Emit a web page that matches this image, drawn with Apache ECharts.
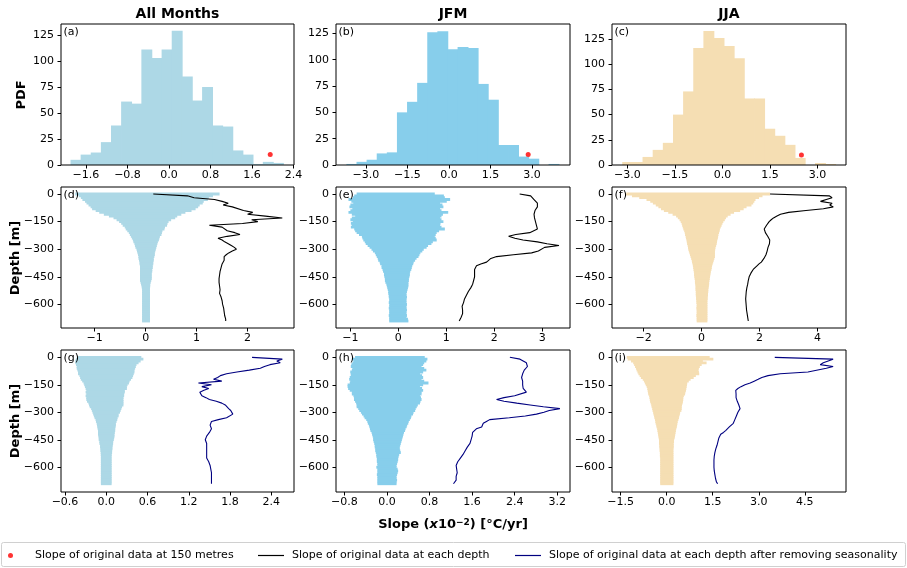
<!DOCTYPE html>
<html>
<head>
<meta charset="utf-8">
<script src="https://cdn.jsdelivr.net/npm/echarts@6/dist/echarts.min.js"></script>
<style>html,body{margin:0;padding:0;background:#fff}#c{width:907px;height:568px}</style>
</head>
<body>
<div id="c"></div>
<script>
// ---------------- DATA ----------------
const columnTitles = ['All Months', 'JFM', 'JJA'];
const panelLetters = ['(a)','(b)','(c)','(d)','(e)','(f)','(g)','(h)','(i)'];

const histEdgesAll = [-1.89,-1.695,-1.5,-1.305,-1.11,-0.915,-0.72,-0.525,-0.33,-0.135,0.06,0.255,0.45,0.645,0.84,1.035,1.23,1.425,1.62,1.815,2.01,2.205];
const histCountsAll = [5,10,12,22,38,61,59,111,103,111,129,85,62,75,38,37,14,10,1,3,2];
const histEdgesJFM = [-3.69,-3.325,-2.96,-2.595,-2.23,-1.865,-1.5,-1.135,-0.77,-0.405,-0.04,0.325,0.69,1.055,1.42,1.785,2.15,2.515,2.88,3.245,3.61,3.975];
const histCountsJFM = [1,3,5,11,12,50,60,78,126,127,110,112,111,77,62,19,19,8,6,0,1];
const histEdgesJJA = [-3.15,-2.83,-2.51,-2.19,-1.87,-1.55,-1.23,-0.91,-0.59,-0.27,0.05,0.37,0.69,1.01,1.33,1.65,1.97,2.29,2.61,2.93,3.25,3.57];
const histCountsJJA = [3,3,8,15,22,50,73,116,133,126,118,106,66,66,36,29,20,7,0,2,1];
const slopeAt150 = [1.95, 2.86, 2.49];
const pdfAt150 = [10, 10, 10];

const depths = [0,-10,-20,-30,-40,-50,-60,-70,-80,-90,-100,-110,-120,-130,-140,-150,-160,-170,-180,-190,-200,-210,-220,-230,-240,-250,-260,-270,-280,-290,-300,-310,-320,-330,-340,-350,-360,-370,-380,-390,-400,-410,-420,-430,-440,-450,-460,-470,-480,-490,-500,-510,-520,-530,-540,-550,-560,-570,-580,-590,-600,-610,-620,-630,-640,-650,-660,-670,-680,-690];

// (d) All months, original data
const allLeft = [-1.38,-1.31,-1.27,-1.24,-1.19,-1.16,-1.12,-1.08,-1.05,-0.98,-0.91,-0.82,-0.72,-0.63,-0.57,-0.52,-0.48,-0.45,-0.41,-0.39,-0.36,-0.33,-0.31,-0.29,-0.27,-0.25,-0.24,-0.22,-0.21,-0.20,-0.18,-0.17,-0.16,-0.15,-0.14,-0.14,-0.13,-0.12,-0.12,-0.11,-0.11,-0.11,-0.11,-0.11,-0.11,-0.11,-0.11,-0.11,-0.10,-0.09,-0.08,-0.075,-0.07,-0.07,-0.07,-0.07,-0.07,-0.07,-0.07,-0.07,-0.07,-0.07,-0.07,-0.07,-0.07,-0.07,-0.07,-0.07,-0.07,-0.07];
const allRight = [1.45,1.32,1.24,1.22,1.14,1.12,1.06,1.03,0.98,0.90,0.78,0.70,0.62,0.58,0.50,0.45,0.43,0.42,0.38,0.37,0.33,0.32,0.31,0.28,0.27,0.26,0.24,0.23,0.22,0.21,0.20,0.19,0.18,0.18,0.17,0.16,0.16,0.15,0.15,0.14,0.14,0.13,0.13,0.12,0.12,0.12,0.12,0.11,0.10,0.09,0.09,0.085,0.085,0.085,0.085,0.085,0.085,0.085,0.085,0.085,0.085,0.085,0.085,0.085,0.085,0.085,0.085,0.085,0.085,0.085];
const allSlope = [0.15,0.82,0.95,1.35,1.50,1.62,1.52,1.70,1.72,1.92,2.10,2.00,2.35,2.68,2.08,2.20,1.90,1.25,1.50,1.48,1.60,1.75,1.85,1.60,1.42,1.50,1.55,1.62,1.68,1.74,1.78,1.70,1.63,1.58,1.54,1.52,1.54,1.53,1.50,1.49,1.48,1.47,1.46,1.46,1.45,1.44,1.44,1.44,1.44,1.45,1.45,1.46,1.46,1.47,1.45,1.47,1.48,1.49,1.50,1.50,1.51,1.52,1.53,1.53,1.54,1.55,1.55,1.56,1.57,1.57];

// (e) JFM, original data
const jfmLeft = [-0.87,-0.92,-0.95,-1.04,-0.98,-0.94,-1.00,-1.02,-0.96,-1.00,-1.04,-0.97,-0.90,-0.97,-1.00,-0.95,-0.99,-0.97,-0.99,-0.92,-0.90,-0.87,-0.82,-0.76,-0.75,-0.73,-0.70,-0.68,-0.64,-0.60,-0.56,-0.53,-0.49,-0.47,-0.45,-0.43,-0.42,-0.39,-0.38,-0.35,-0.35,-0.33,-0.32,-0.30,-0.30,-0.29,-0.28,-0.28,-0.27,-0.25,-0.24,-0.23,-0.22,-0.21,-0.21,-0.20,-0.20,-0.19,-0.19,-0.20,-0.19,-0.19,-0.20,-0.19,-0.19,-0.19,-0.20,-0.19,-0.19,-0.19];
const jfmRight = [0.76,0.95,0.97,1.08,1.01,0.87,0.92,0.94,0.87,0.90,1.04,0.93,0.90,0.87,0.90,0.94,0.88,0.87,0.90,0.97,0.85,0.80,0.78,0.76,0.78,0.80,0.72,0.69,0.62,0.59,0.53,0.50,0.46,0.44,0.42,0.38,0.35,0.32,0.31,0.29,0.28,0.27,0.25,0.24,0.24,0.23,0.22,0.22,0.21,0.21,0.21,0.20,0.19,0.18,0.17,0.17,0.18,0.17,0.17,0.17,0.18,0.17,0.17,0.18,0.17,0.17,0.18,0.17,0.20,0.21];
const jfmSlope = [2.53,2.76,2.80,2.83,2.86,2.90,2.92,2.90,2.86,2.85,2.84,2.83,2.83,2.84,2.85,2.86,2.87,2.88,2.89,2.90,2.92,2.74,2.45,2.30,2.43,2.60,2.90,3.10,3.35,3.05,3.02,2.92,2.78,2.40,2.05,1.93,1.89,1.84,1.72,1.63,1.60,1.59,1.58,1.59,1.60,1.59,1.58,1.57,1.56,1.55,1.53,1.51,1.48,1.46,1.44,1.42,1.40,1.38,1.37,1.36,1.35,1.33,1.32,1.34,1.35,1.34,1.32,1.31,1.29,1.27];

// (f) JJA, original data
const jjaLeft = [-2.60,-2.40,-2.15,-1.90,-1.77,-1.68,-1.58,-1.49,-1.40,-1.30,-1.15,-1.00,-0.88,-0.82,-0.76,-0.72,-0.69,-0.67,-0.65,-0.63,-0.60,-0.58,-0.57,-0.55,-0.54,-0.52,-0.51,-0.50,-0.48,-0.47,-0.46,-0.44,-0.42,-0.40,-0.38,-0.36,-0.34,-0.33,-0.31,-0.30,-0.29,-0.28,-0.27,-0.26,-0.26,-0.25,-0.24,-0.23,-0.23,-0.22,-0.21,-0.21,-0.21,-0.20,-0.20,-0.20,-0.19,-0.19,-0.18,-0.18,-0.17,-0.17,-0.18,-0.17,-0.17,-0.17,-0.18,-0.17,-0.17,-0.17];
const jjaRight = [2.36,2.10,1.98,1.86,1.82,1.78,1.72,1.55,1.45,1.33,1.12,1.00,0.90,0.84,0.80,0.75,0.72,0.69,0.66,0.63,0.62,0.60,0.58,0.57,0.56,0.54,0.53,0.52,0.50,0.48,0.47,0.46,0.46,0.46,0.46,0.44,0.42,0.40,0.38,0.36,0.35,0.34,0.32,0.31,0.30,0.29,0.28,0.27,0.26,0.26,0.25,0.24,0.23,0.23,0.22,0.22,0.21,0.21,0.20,0.20,0.20,0.20,0.20,0.20,0.20,0.20,0.20,0.20,0.20,0.20];
const jjaSlope = [2.36,4.40,4.50,4.30,4.10,4.50,4.42,4.54,4.20,3.60,3.00,2.72,2.60,2.48,2.40,2.33,2.27,2.24,2.20,2.16,2.17,2.20,2.24,2.28,2.32,2.35,2.36,2.34,2.31,2.29,2.28,2.26,2.24,2.22,2.19,2.15,2.12,2.06,1.98,1.91,1.85,1.78,1.73,1.70,1.67,1.64,1.62,1.61,1.60,1.59,1.57,1.56,1.55,1.54,1.53,1.53,1.52,1.52,1.52,1.53,1.53,1.54,1.55,1.55,1.56,1.57,1.58,1.59,1.60,1.61];

// (g) All months, seasonality removed
const allDsLeft = [-0.42,-0.44,-0.45,-0.45,-0.44,-0.43,-0.43,-0.42,-0.41,-0.41,-0.39,-0.38,-0.37,-0.35,-0.33,-0.32,-0.31,-0.30,-0.29,-0.30,-0.29,-0.30,-0.29,-0.29,-0.28,-0.26,-0.25,-0.24,-0.22,-0.21,-0.20,-0.19,-0.18,-0.17,-0.155,-0.15,-0.14,-0.135,-0.13,-0.125,-0.12,-0.12,-0.12,-0.115,-0.11,-0.11,-0.10,-0.10,-0.09,-0.09,-0.085,-0.085,-0.08,-0.08,-0.078,-0.078,-0.078,-0.078,-0.078,-0.078,-0.078,-0.078,-0.078,-0.078,-0.078,-0.078,-0.078,-0.078,-0.078,-0.078];
const allDsRight = [0.51,0.54,0.50,0.47,0.44,0.43,0.42,0.41,0.41,0.40,0.39,0.38,0.36,0.34,0.33,0.31,0.30,0.30,0.27,0.27,0.26,0.26,0.25,0.25,0.25,0.25,0.25,0.23,0.22,0.21,0.20,0.18,0.18,0.165,0.16,0.15,0.14,0.14,0.135,0.13,0.13,0.125,0.12,0.12,0.115,0.11,0.10,0.10,0.095,0.09,0.09,0.085,0.085,0.08,0.078,0.078,0.078,0.078,0.078,0.078,0.078,0.078,0.078,0.078,0.078,0.078,0.078,0.078,0.078,0.078];
const allDsSlope = [2.12,2.56,2.48,2.53,2.38,2.30,2.24,2.08,1.90,1.75,1.66,1.62,1.56,1.68,1.34,1.53,1.39,1.49,1.42,1.36,1.34,1.39,1.45,1.50,1.60,1.68,1.73,1.75,1.78,1.81,1.83,1.84,1.85,1.75,1.63,1.53,1.52,1.51,1.52,1.53,1.51,1.50,1.48,1.46,1.45,1.44,1.46,1.46,1.46,1.46,1.46,1.46,1.46,1.46,1.46,1.46,1.48,1.49,1.50,1.51,1.51,1.52,1.52,1.53,1.53,1.53,1.53,1.53,1.53,1.53];

// (h) JFM, seasonality removed
const jfmDsLeft = [-0.60,-0.66,-0.63,-0.65,-0.67,-0.68,-0.65,-0.66,-0.69,-0.68,-0.68,-0.70,-0.71,-0.69,-0.70,-0.74,-0.74,-0.73,-0.70,-0.66,-0.66,-0.63,-0.62,-0.62,-0.60,-0.58,-0.57,-0.57,-0.54,-0.52,-0.49,-0.47,-0.44,-0.42,-0.39,-0.37,-0.36,-0.34,-0.33,-0.32,-0.31,-0.29,-0.28,-0.27,-0.26,-0.26,-0.25,-0.24,-0.23,-0.23,-0.22,-0.22,-0.21,-0.20,-0.20,-0.19,-0.19,-0.19,-0.18,-0.18,-0.20,-0.18,-0.18,-0.18,-0.19,-0.18,-0.18,-0.18,-0.18,-0.18];
const jfmDsRight = [0.71,0.76,0.74,0.70,0.68,0.65,0.70,0.74,0.68,0.62,0.66,0.68,0.65,0.70,0.78,0.68,0.62,0.66,0.68,0.65,0.65,0.62,0.64,0.65,0.63,0.62,0.58,0.56,0.54,0.53,0.50,0.49,0.46,0.45,0.43,0.41,0.40,0.38,0.37,0.35,0.34,0.32,0.31,0.30,0.29,0.28,0.27,0.26,0.25,0.24,0.24,0.25,0.26,0.23,0.22,0.21,0.21,0.20,0.19,0.18,0.18,0.20,0.21,0.20,0.19,0.18,0.18,0.19,0.18,0.18];
const jfmDsSlope = [2.31,2.50,2.56,2.62,2.65,2.64,2.62,2.58,2.56,2.55,2.53,2.53,2.54,2.55,2.55,2.55,2.56,2.56,2.58,2.62,2.62,2.40,2.20,2.06,2.20,2.44,2.69,2.94,3.25,3.05,2.95,2.81,2.60,2.30,1.93,1.87,1.81,1.79,1.78,1.68,1.65,1.61,1.60,1.60,1.59,1.58,1.57,1.56,1.55,1.51,1.50,1.47,1.45,1.43,1.41,1.38,1.35,1.33,1.31,1.30,1.30,1.31,1.32,1.32,1.31,1.30,1.30,1.30,1.28,1.25];

// (i) JJA, seasonality removed
const jjaDsLeft = [-1.30,-1.27,-1.16,-1.09,-1.06,-1.03,-1.00,-0.98,-0.95,-0.92,-0.88,-0.84,-0.78,-0.74,-0.71,-0.68,-0.65,-0.63,-0.62,-0.61,-0.60,-0.57,-0.56,-0.55,-0.54,-0.52,-0.50,-0.49,-0.47,-0.46,-0.44,-0.43,-0.41,-0.40,-0.38,-0.37,-0.36,-0.34,-0.33,-0.31,-0.30,-0.29,-0.28,-0.27,-0.26,-0.25,-0.25,-0.25,-0.24,-0.24,-0.23,-0.23,-0.22,-0.22,-0.22,-0.21,-0.21,-0.21,-0.21,-0.21,-0.21,-0.21,-0.21,-0.21,-0.21,-0.21,-0.21,-0.21,-0.21,-0.21];
const jjaDsRight = [1.40,1.52,1.18,1.30,1.14,1.08,1.05,1.03,1.05,1.06,0.95,0.88,0.78,0.72,0.67,0.66,0.65,0.64,0.63,0.61,0.60,0.56,0.54,0.54,0.53,0.52,0.50,0.49,0.49,0.48,0.44,0.43,0.41,0.40,0.38,0.36,0.35,0.34,0.33,0.31,0.30,0.29,0.28,0.27,0.26,0.24,0.24,0.23,0.23,0.23,0.22,0.22,0.22,0.22,0.22,0.22,0.22,0.22,0.22,0.22,0.22,0.22,0.22,0.22,0.22,0.22,0.22,0.22,0.22,0.22];
const jjaDsSlope = [3.52,5.42,5.45,5.10,5.00,5.42,5.20,5.18,4.60,3.70,3.30,3.10,2.98,2.85,2.72,2.55,2.42,2.32,2.25,2.22,2.26,2.28,2.26,2.27,2.30,2.33,2.35,2.38,2.39,2.36,2.32,2.29,2.27,2.25,2.22,2.20,2.17,2.12,2.04,1.98,1.92,1.85,1.76,1.72,1.70,1.68,1.67,1.65,1.64,1.62,1.60,1.58,1.57,1.56,1.55,1.54,1.54,1.54,1.54,1.54,1.54,1.54,1.55,1.56,1.57,1.58,1.59,1.60,1.62,1.66];

// tick labels
const xTicksA = [-1.6,-0.8,0,0.8,1.6,2.4];
const xTicksB = [-3,-1.5,0,1.5,3];
const xTicksC = [-3,-1.5,0,1.5,3];
const xTicksD = [-1,0,1,2];
const xTicksE = [-1,0,1,2,3];
const xTicksF = [-2,0,2,4];
const xTicksG = [-0.6,0,0.6,1.2,1.8,2.4];
const xTicksH = [-0.8,0,0.8,1.6,2.4,3.2];
const xTicksI = [-1.5,0,1.5,3,4.5];
const pdfTicks = [0,25,50,75,100,125];
const depthTicks = [0,-150,-300,-450,-600];

const legendNames = ['Slope of original data at 150 metres','Slope of original data at each depth','Slope of original data at each depth after removing seasonality'];

// ---------------- LAYOUT / STYLE ----------------
const FONT = '"DejaVu Sans", "Liberation Sans", sans-serif';
const colLeft = [61, 336, 612], colWidth = [233, 234, 234];
const rowTop = [24, 187, 350], rowHeight = [141, 141, 142];
const colColors = ['#add8e6', '#87ceeb', '#f5deb3'];
const xRanges = [[-2.081,2.408],[-4.08,4.37],[-3.486,3.896],[-1.66,2.91],[-1.30,3.58],[-3.09,4.98],[-0.658,2.73],[-0.958,3.44],[-1.78,5.84]];
const yRanges = [[0,135.6],[0,133.9],[0,139.9],[-728,38],[-728,38],[-728,38],[-735,40],[-735,40],[-735,40]];
const xTickSets = [xTicksA,xTicksB,xTicksC,xTicksD,xTicksE,xTicksF,xTicksG,xTicksH,xTicksI];
const xDec = [1,1,1,0,0,0,1,1,1];

function fmt(v, dec) {
  const s = Math.abs(v).toFixed(dec);
  return (v < -1e-9 ? '\u2212' : '') + s;
}

const grids = [], xAxes = [], yAxes = [], series = [];
for (let r = 0; r < 3; r++) {
  for (let c = 0; c < 3; c++) {
    const i = r * 3 + c;
    grids.push({left: colLeft[c], top: rowTop[r], width: colWidth[c], height: rowHeight[r],
      show: true, borderColor: '#000', borderWidth: 1, backgroundColor: 'transparent', z: 5, containLabel: false});
    xAxes.push({type: 'value', gridIndex: i, min: xRanges[i][0], max: xRanges[i][1],
      axisLine: {show: false, onZero: false}, splitLine: {show: false},
      axisTick: {show: true, length: 3.5, inside: false, lineStyle: {color: '#000', width: 1}, customValues: xTickSets[i]},
      axisLabel: {customValues: xTickSets[i], formatter: (v) => fmt(v, xDec[i]), fontSize: 11, color: '#000', margin: 5, fontFamily: FONT}});
    const yt = r === 0 ? pdfTicks : depthTicks;
    yAxes.push({type: 'value', gridIndex: i, min: yRanges[i][0], max: yRanges[i][1],
      axisLine: {show: false, onZero: false}, splitLine: {show: false},
      axisTick: {show: true, length: 3.5, inside: false, lineStyle: {color: '#000', width: 1}, customValues: yt},
      axisLabel: {customValues: yt, formatter: (v) => fmt(v, 0), fontSize: 11, color: '#000', margin: 7, fontFamily: FONT}});
  }
}

function histRender(color) {
  return function (params, api) {
    const p0 = api.coord([api.value(0), api.value(2)]);
    const p1 = api.coord([api.value(1), 0]);
    return {type: 'rect', shape: {x: p0[0] - 0.4, y: p0[1], width: p1[0] - p0[0] + 0.8, height: p1[1] - p0[1]},
      style: {fill: color, stroke: null}};
  };
}
function spreadRender(color, half) {
  return function (params, api) {
    const d = api.value(2);
    const p0 = api.coord([api.value(0), d + half]);
    const p1 = api.coord([api.value(1), d - half]);
    return {type: 'rect', shape: {x: p0[0], y: p0[1] - 0.5, width: p1[0] - p0[0], height: p1[1] - p0[1] + 1.0},
      style: {fill: color, stroke: null}};
  };
}

const histEdges = [histEdgesAll, histEdgesJFM, histEdgesJJA];
const histCounts = [histCountsAll, histCountsJFM, histCountsJJA];
for (let c = 0; c < 3; c++) {
  series.push({type: 'custom', name: columnTitles[c] + ' PDF', xAxisIndex: c, yAxisIndex: c, z: 2,
    dimensions: ['x0','x1','count'], encode: {x: [0,1], y: 2}, clip: true,
    renderItem: histRender(colColors[c]),
    data: histCounts[c].map((n, k) => [histEdges[c][k], histEdges[c][k+1], n])});
  series.push({type: 'scatter', name: legendNames[0], xAxisIndex: c, yAxisIndex: c, z: 3,
    symbol: 'circle', symbolSize: 5, itemStyle: {color: '#ff0000'},
    data: [[slopeAt150[c], pdfAt150[c]]]});
}

const half = (depths[0] - depths[1]) / 2;
const spreadSets = [
  [allLeft, allRight, allSlope], [jfmLeft, jfmRight, jfmSlope], [jjaLeft, jjaRight, jjaSlope],
  [allDsLeft, allDsRight, allDsSlope], [jfmDsLeft, jfmDsRight, jfmDsSlope], [jjaDsLeft, jjaDsRight, jjaDsSlope]
];
spreadSets.forEach((set, j) => {
  const i = j + 3;
  const c = j % 3;
  const lineColor = j < 3 ? '#000000' : '#000080';
  series.push({type: 'custom', name: panelLetters[i] + ' spread', xAxisIndex: i, yAxisIndex: i, z: 2,
    dimensions: ['left','right','depth'], encode: {x: [0,1], y: 2}, clip: true,
    renderItem: spreadRender(colColors[c], half),
    data: depths.map((d, k) => [set[0][k], set[1][k], d])});
  series.push({type: 'line', name: j < 3 ? legendNames[1] : legendNames[2], xAxisIndex: i, yAxisIndex: i, z: 3,
    symbol: 'none', showSymbol: false, clip: true, color: lineColor,
    lineStyle: {color: lineColor, width: 1.1},
    data: depths.map((d, k) => [set[2][k], d])});
});

const graphics = [];
graphics.push({type: 'rect', z: 0, shape: {x: 1.5, y: 542.5, width: 904, height: 24, r: 2},
  style: {fill: '#ffffff', stroke: '#d0d0d0', lineWidth: 1}});
for (let c = 0; c < 3; c++) {
  graphics.push({type: 'text', z: 10, x: colLeft[c] + colWidth[c] / 2, y: 14,
    style: {text: columnTitles[c], fontSize: 14, fontWeight: 'bold', fontFamily: FONT, fill: '#000', align: 'center', verticalAlign: 'middle'}});
}
for (let r = 0; r < 3; r++) for (let c = 0; c < 3; c++) {
  graphics.push({type: 'text', z: 10, x: colLeft[c] + 2.5, y: rowTop[r] + 3,
    style: {text: panelLetters[r*3+c], fontSize: 11, fontFamily: FONT, fill: '#000', align: 'left', verticalAlign: 'top'}});
}
graphics.push({type: 'text', z: 10, x: 22, y: 95, rotation: Math.PI / 2,
  style: {text: 'PDF', fontSize: 13, fontWeight: 'bold', fontFamily: FONT, fill: '#000', align: 'center', verticalAlign: 'middle'}});
graphics.push({type: 'text', z: 10, x: 16, y: 258, rotation: Math.PI / 2,
  style: {text: 'Depth [m]', fontSize: 13, fontWeight: 'bold', fontFamily: FONT, fill: '#000', align: 'center', verticalAlign: 'middle'}});
graphics.push({type: 'text', z: 10, x: 16, y: 421, rotation: Math.PI / 2,
  style: {text: 'Depth [m]', fontSize: 13, fontWeight: 'bold', fontFamily: FONT, fill: '#000', align: 'center', verticalAlign: 'middle'}});
graphics.push({type: 'text', z: 10, x: 453, y: 525,
  style: {text: '{b|Slope (}{i|x}{n|10}{s|\u22122}{b|) [\u00b0C/yr]}', fill: '#000', align: 'center', verticalAlign: 'middle',
    rich: {
      b: {fontSize: 13, fontWeight: 'bold', fontFamily: FONT, fill: '#000'},
      i: {fontSize: 13, fontStyle: 'italic', fontWeight: 'bold', fontFamily: FONT, fill: '#000'},
      n: {fontSize: 13, fontWeight: 'bold', fontFamily: FONT, fill: '#000'},
      s: {fontSize: 9, fontWeight: 'bold', fontFamily: FONT, fill: '#000', verticalAlign: 'top', lineHeight: 9}
    }}});

const legendText = {fontSize: 11, color: '#000', fontFamily: FONT};
const option = {
  animation: false,
  backgroundColor: '#ffffff',
  grid: grids,
  xAxis: xAxes,
  yAxis: yAxes,
  series: series,
  graphic: graphics,
  legend: [
    {left: 8, top: 550, padding: 0, itemWidth: 5, itemHeight: 5, selectedMode: false,
      data: [{name: legendNames[0], icon: 'circle', itemStyle: {color: '#ff0000'}}],
      textStyle: Object.assign({}, legendText, {padding: [0, 0, 0, 17]})},
    {left: 258, top: 550, padding: 0, itemWidth: 26, itemHeight: 1.2, selectedMode: false,
      data: [{name: legendNames[1], icon: 'rect', itemStyle: {color: '#000000'}}],
      textStyle: Object.assign({}, legendText, {padding: [0, 0, 0, 3]})},
    {left: 515, top: 550, padding: 0, itemWidth: 26, itemHeight: 1.2, selectedMode: false,
      data: [{name: legendNames[2], icon: 'rect', itemStyle: {color: '#000080'}}],
      textStyle: Object.assign({}, legendText, {padding: [0, 0, 0, 3]})}
  ]
};

const chart = echarts.init(document.getElementById('c'), null, {renderer: 'canvas', width: 907, height: 568});
chart.setOption(option);
</script>
</body>
</html>
